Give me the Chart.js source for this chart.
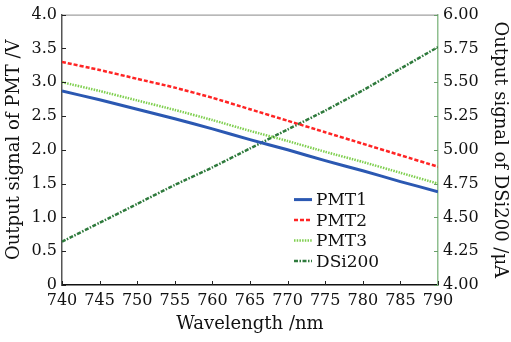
<!DOCTYPE html>
<html>
<head>
<meta charset="utf-8">
<script src="https://cdn.jsdelivr.net/npm/chart.js@4.4.1/dist/chart.umd.min.js"></script>
<style>
  html, body { margin: 0; padding: 0; background: #fff; }
  #grafico { display: block; }
</style>
</head>
<body>
<canvas id="grafico" width="511" height="342"></canvas>
<script>
// datos
const longitudes = [740, 745, 750, 755, 760, 765, 770, 775, 780, 785, 790];
const pmt1 = [2.87, 2.74, 2.60, 2.46, 2.31, 2.15, 2.00, 1.84, 1.69, 1.53, 1.38];
const pmt2 = [3.30, 3.18, 3.05, 2.92, 2.77, 2.60, 2.43, 2.26, 2.09, 1.92, 1.75];
const pmt3 = [3.00, 2.87, 2.73, 2.59, 2.44, 2.28, 2.13, 1.97, 1.82, 1.66, 1.50];
const dsi200 = [4.32, 4.46, 4.60, 4.74, 4.87, 5.01, 5.15, 5.29, 5.44, 5.60, 5.76];
const nombres = ["PMT1", "PMT2", "PMT3", "DSi200"];

const fuente = "'DejaVu Serif', 'Liberation Serif', serif";
const sinGrilla = { display: false, drawTicks: false, tickLength: 0 };

function puntos(valores) {
  return longitudes.map((x, i) => ({ x: x, y: valores[i] }));
}

// marcas hacia adentro + linea superior
const marcasInternas = {
  id: "marcasInternas",
  afterDatasetsDraw(chart) {
    const { ctx, chartArea: a, scales } = chart;
    ctx.save();
    ctx.lineWidth = 1;
    ctx.strokeStyle = "#888";
    ctx.beginPath();
    ctx.moveTo(a.left, a.top + 0.5);
    ctx.lineTo(a.right, a.top + 0.5);
    ctx.stroke();

    ctx.strokeStyle = "#222";
    ctx.beginPath();
    scales.x.ticks.forEach((t) => {
      const px = Math.round(scales.x.getPixelForValue(t.value)) + 0.5;
      ctx.moveTo(px, a.bottom);
      ctx.lineTo(px, a.bottom - 4);
    });
    scales.y.ticks.forEach((t) => {
      const py = Math.round(scales.y.getPixelForValue(t.value)) + 0.5;
      ctx.moveTo(a.left, py);
      ctx.lineTo(a.left + 4, py);
    });
    ctx.stroke();

    ctx.strokeStyle = "#6a9e6a";
    ctx.beginPath();
    scales.y1.ticks.forEach((t) => {
      const py = Math.round(scales.y1.getPixelForValue(t.value)) + 0.5;
      ctx.moveTo(a.right, py);
      ctx.lineTo(a.right - 4, py);
    });
    ctx.stroke();
    ctx.restore();
  },
};

// leyenda dentro del area del grafico
const leyendaInterna = {
  id: "leyendaInterna",
  afterDatasetsDraw(chart) {
    const { ctx, chartArea: a } = chart;
    const x0 = a.left + 232;
    const y0 = a.top + 185;
    ctx.save();
    ctx.font = "17px " + fuente;
    ctx.textBaseline = "middle";
    chart.data.datasets.forEach((ds, i) => {
      const y = y0 + i * 20.5;
      ctx.strokeStyle = ds.borderColor;
      ctx.lineWidth = ds.borderWidth;
      ctx.setLineDash(ds.borderDash || []);
      ctx.beginPath();
      ctx.moveTo(x0, y);
      ctx.lineTo(x0 + 18, y);
      ctx.stroke();
      ctx.setLineDash([]);
      ctx.fillStyle = "#111";
      ctx.fillText(ds.label, x0 + 22, y + 1);
    });
    ctx.restore();
  },
};

new Chart(document.getElementById("grafico").getContext("2d"), {
  type: "line",
  data: {
    datasets: [
      {
        label: nombres[0],
        data: puntos(pmt1),
        yAxisID: "y",
        borderColor: "#2b58b2",
        borderWidth: 3,
      },
      {
        label: nombres[1],
        data: puntos(pmt2),
        yAxisID: "y",
        borderColor: "#ff2424",
        borderWidth: 2.5,
        borderDash: [4, 2],
      },
      {
        label: nombres[2],
        data: puntos(pmt3),
        yAxisID: "y",
        borderColor: "#7fcf4f",
        borderWidth: 2.5,
        borderDash: [1.5, 1.2],
      },
      {
        label: nombres[3],
        data: puntos(dsi200),
        yAxisID: "y1",
        borderColor: "#2e7a3c",
        borderWidth: 2.5,
        borderDash: [4, 1.5, 1.5, 1.5],
      },
    ],
  },
  options: {
    responsive: false,
    animation: false,
    devicePixelRatio: 1,
    layout: { padding: { top: 14, left: 0, right: 0, bottom: 0 } },
    elements: { point: { radius: 0 }, line: { tension: 0.2, fill: false } },
    plugins: { legend: { display: false }, tooltip: { enabled: false } },
    scales: {
      x: {
        type: "linear",
        min: 740,
        max: 790,
        grid: sinGrilla,
        border: { color: "#111", width: 1.5 },
        ticks: { stepSize: 5, padding: 6, color: "#111", font: { family: fuente, size: 16 } },
        title: {
          display: true,
          text: "Wavelength /nm",
          color: "#111",
          font: { family: fuente, size: 18 },
          padding: { top: 0, bottom: 7 },
        },
        afterFit: (s) => { s.height = 57; },
      },
      y: {
        position: "left",
        min: 0,
        max: 4,
        grid: sinGrilla,
        border: { color: "#555", width: 1.5 },
        ticks: {
          stepSize: 0.5,
          padding: 5,
          color: "#111",
          font: { family: fuente, size: 16 },
          callback: (v) => (v === 0 ? "0" : v.toFixed(1)),
        },
        title: {
          display: true,
          text: "Output signal of PMT /V",
          color: "#111",
          font: { family: fuente, size: 18 },
          padding: { top: 4, bottom: 0 },
        },
        afterFit: (s) => { s.width = 62; },
      },
      y1: {
        position: "right",
        min: 4,
        max: 6,
        grid: sinGrilla,
        border: { color: "#8fbf8f", width: 1.5 },
        ticks: {
          stepSize: 0.25,
          padding: 5,
          color: "#111",
          font: { family: fuente, size: 16 },
          callback: (v) => v.toFixed(2),
        },
        title: {
          display: true,
          text: "Output signal of DSi200 /μA",
          color: "#111",
          font: { family: fuente, size: 18 },
          padding: { top: 1, bottom: 0 },
        },
        afterFit: (s) => { s.width = 73; },
      },
    },
  },
  plugins: [marcasInternas, leyendaInterna],
});
</script>
</body>
</html>
